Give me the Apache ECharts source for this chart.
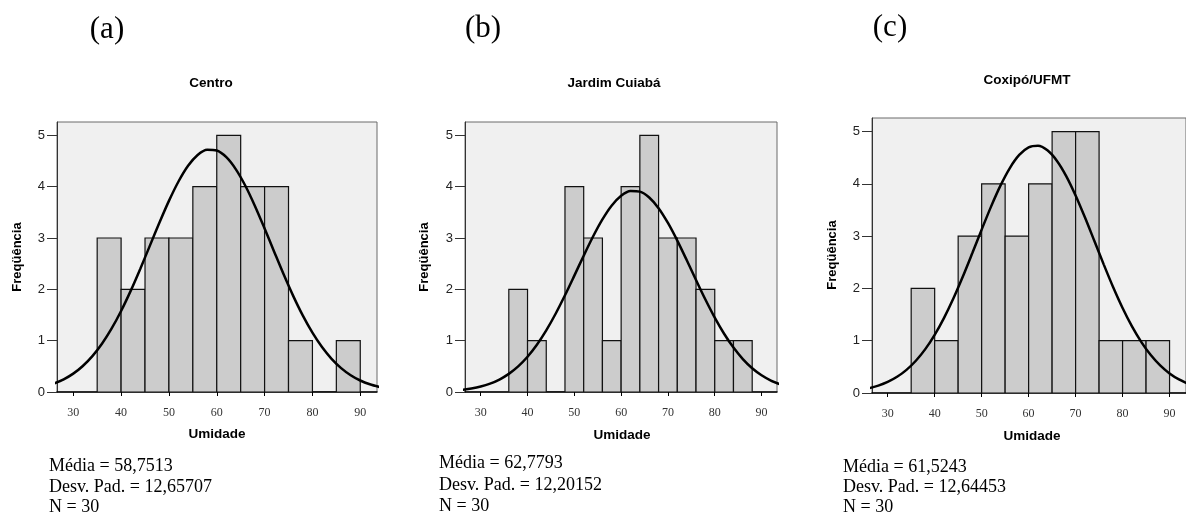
<!DOCTYPE html>
<html>
<head>
<meta charset="utf-8">
<script src="https://cdn.jsdelivr.net/npm/echarts@6/dist/echarts.min.js"></script>
<style>
html,body{margin:0;padding:0;background:#fff;}
#chart{width:1186px;height:515px;}
</style>
</head>
<body>
<div id="chart"></div>
<script>
// ---- data ----
const panelLetters = ['(a)', '(b)', '(c)'];
const titles = ['Centro', 'Jardim Cuiabá', 'Coxipó/UFMT'];
const statsText = [
  ['Média = 58,7513', 'Desv. Pad. = 12,65707', 'N = 30'],
  ['Média = 62,7793', 'Desv. Pad. = 12,20152', 'N = 30'],
  ['Média = 61,5243', 'Desv. Pad. = 12,64453', 'N = 30']
];
const xTickLabels = [30, 40, 50, 60, 70, 80, 90];
const yTickLabels = [0, 1, 2, 3, 4, 5];

const edgesA = [35, 40, 45, 50, 55, 60, 65, 70, 75, 80, 85, 90];
const countsA = [3, 2, 3, 3, 4, 5, 4, 4, 1, 0, 1];
const edgesB = [36, 40, 44, 48, 52, 56, 60, 64, 68, 72, 76, 80, 84, 88];
const countsB = [2, 1, 0, 4, 3, 1, 4, 5, 3, 3, 2, 1, 1];
const edgesC = [35, 40, 45, 50, 55, 60, 65, 70, 75, 80, 85, 90];
const countsC = [2, 1, 3, 4, 3, 4, 5, 5, 1, 1, 1];

const curveX = [26, 28, 30, 32, 34, 36, 38, 40, 42, 44, 46, 48, 50, 52, 54, 56, 58, 60,
                62, 64, 66, 68, 70, 72, 74, 76, 78, 80, 82, 84, 86, 88, 90, 92, 94];
const curveA = [0.166, 0.247, 0.358, 0.507, 0.699, 0.940, 1.233, 1.578, 1.970, 2.398, 2.847, 3.296,
                3.723, 4.101, 4.407, 4.618, 4.720, 4.705, 4.575, 4.338, 4.013, 3.620, 3.185, 2.734,
                2.288, 1.868, 1.487, 1.155, 0.875, 0.646, 0.466, 0.327, 0.224, 0.150, 0.098];
const curveB = [0.042, 0.068, 0.106, 0.163, 0.243, 0.353, 0.499, 0.687, 0.920, 1.200, 1.524, 1.884,
                2.267, 2.656, 3.029, 3.362, 3.634, 3.823, 3.916, 3.904, 3.789, 3.581, 3.293, 2.949,
                2.571, 2.182, 1.802, 1.449, 1.135, 0.865, 0.642, 0.463, 0.326, 0.223, 0.149];
const curveC = [0.091, 0.141, 0.212, 0.310, 0.443, 0.617, 0.839, 1.112, 1.438, 1.812, 2.228, 2.672,
                3.125, 3.565, 3.966, 4.303, 4.553, 4.699, 4.729, 4.642, 4.444, 4.150, 3.779, 3.356,
                2.907, 2.456, 2.023, 1.626, 1.274, 0.974, 0.726, 0.528, 0.374, 0.259, 0.175];

// ---- layout ----
const grids = [
  {left: 57, top: 122, width: 320, height: 270, xmin: 26.6, xmax: 93.5},
  {left: 465, top: 122, width: 312, height: 270, xmin: 26.64, xmax: 93.3},
  {left: 872, top: 118, width: 321, height: 275, xmin: 26.66, xmax: 93.5}
];
const letterPos = [[107, 30], [483, 29], [890, 28]];
const titlePos = [[211, 83], [614, 83], [1027, 80]];
const yNamePos = [[17, 257], [424, 257], [832, 255]];
const xNamePos = [[217, 434], [622, 435], [1032, 436]];
const statsPos = [[49, 466], [439, 463], [843, 467]];
const statsLine = [20.8, 21.8, 20];

const panels = [
  {edges: edgesA, counts: countsA, curve: curveA},
  {edges: edgesB, counts: countsB, curve: curveB},
  {edges: edgesC, counts: countsC, curve: curveC}
];

const gridOpt = [], xAxes = [], yAxes = [], series = [], graphics = [];
panels.forEach((p, i) => {
  const g = grids[i];
  gridOpt.push({left: g.left, top: g.top, width: g.width, height: g.height, show: true,
    backgroundColor: '#f0f0f0', borderColor: '#6a6a6a', borderWidth: 1});
  xAxes.push({gridIndex: i, type: 'value', min: g.xmin, max: g.xmax,
    axisLine: {show: true, onZero: false, lineStyle: {color: '#000', width: 1.5}},
    axisTick: {show: true, customValues: xTickLabels, length: 4, lineStyle: {color: '#000', width: 1}},
    axisLabel: {customValues: xTickLabels, margin: 15, fontFamily: 'Liberation Serif', fontSize: 12, color: '#333'},
    splitLine: {show: false}});
  yAxes.push({gridIndex: i, type: 'value', min: 0, max: 5.26,
    axisLine: {show: true, lineStyle: {color: '#333', width: 1}},
    axisTick: {show: true, customValues: yTickLabels, length: 10, lineStyle: {color: '#333', width: 1}},
    axisLabel: {customValues: yTickLabels, margin: 12, fontFamily: 'Liberation Sans', fontSize: 13, color: '#222'},
    splitLine: {show: false}});
  const barData = p.counts.map((c, k) => [p.edges[k], p.edges[k + 1], c]);
  series.push({type: 'custom', xAxisIndex: i, yAxisIndex: i, data: barData, clip: true,
    encode: {x: [0, 1], y: 2},
    renderItem: (params, api) => {
      const p0 = api.coord([api.value(0), api.value(2)]);
      const p1 = api.coord([api.value(1), 0]);
      return {type: 'rect',
        shape: {x: p0[0], y: p0[1], width: p1[0] - p0[0], height: p1[1] - p0[1]},
        style: {fill: '#cccccc', stroke: '#111', lineWidth: 1.2}};
    }, z: 2});
  series.push({type: 'line', xAxisIndex: i, yAxisIndex: i,
    data: curveX.map((x, k) => [x, p.curve[k]]),
    smooth: 0.3, showSymbol: false, symbol: 'none', clip: true,
    lineStyle: {color: '#000', width: 2.5}, z: 5, silent: true});

  graphics.push({type: 'text', x: letterPos[i][0], y: letterPos[i][1],
    style: {text: panelLetters[i], font: '31px "Liberation Serif"', fill: '#000', align: 'center', verticalAlign: 'middle'}});
  graphics.push({type: 'text', x: titlePos[i][0], y: titlePos[i][1],
    style: {text: titles[i], font: 'bold 13.5px "Liberation Sans"', fill: '#000', align: 'center', verticalAlign: 'middle'}});
  graphics.push({type: 'text', x: yNamePos[i][0], y: yNamePos[i][1], rotation: Math.PI / 2,
    style: {text: 'Freqüência', font: 'bold 13px "Liberation Sans"', fill: '#000', align: 'center', verticalAlign: 'middle'}});
  graphics.push({type: 'text', x: xNamePos[i][0], y: xNamePos[i][1],
    style: {text: 'Umidade', font: 'bold 13.5px "Liberation Sans"', fill: '#000', align: 'center', verticalAlign: 'middle'}});
  statsText[i].forEach((t, k) => {
    graphics.push({type: 'text', x: statsPos[i][0], y: statsPos[i][1] + k * statsLine[i],
      style: {text: t, font: '18px "Liberation Serif"', fill: '#000', align: 'left', verticalAlign: 'middle'}});
  });
});

const chart = echarts.init(document.getElementById('chart'), null, {renderer: 'canvas'});
chart.setOption({
  animation: false,
  grid: gridOpt,
  xAxis: xAxes,
  yAxis: yAxes,
  series: series,
  graphic: graphics
});
</script>
</body>
</html>
